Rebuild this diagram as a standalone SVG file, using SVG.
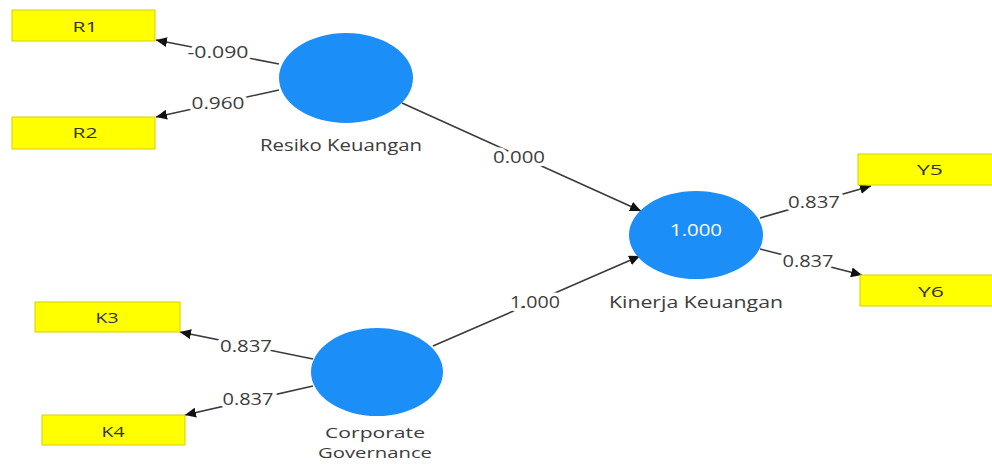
<svg xmlns="http://www.w3.org/2000/svg" width="992" height="464" viewBox="0 0 992 464">
<style>
.bg{fill:#ffffff}
.lv{fill:#1c8ef8}
.ind{fill:#ffff00;stroke:#d6d000;stroke-width:1}
.edge{stroke:#3a3a3a;stroke-width:1.6;fill:none;marker-end:url(#ah)}
.el{font-family:"Open Sans","Noto Sans",sans-serif;font-size:17px;fill:#3c3c3c;text-anchor:middle;stroke:#ffffff;stroke-width:7;stroke-linejoin:round;paint-order:stroke}
.nl{font-family:"Open Sans","Noto Sans",sans-serif;font-size:17px;fill:#3c3c3c;text-anchor:middle}
.cg{font-family:"Open Sans","Noto Sans",sans-serif;font-size:15px;fill:#3c3c3c;text-anchor:middle}
.bl{font-family:"Open Sans","Noto Sans",sans-serif;font-size:15px;fill:#333333;text-anchor:middle}
.in{font-family:"Open Sans","Noto Sans",sans-serif;font-size:17px;fill:#ffffff;text-anchor:middle}
</style>
<defs>
<marker id="ah" markerUnits="userSpaceOnUse" markerWidth="12" markerHeight="10" refX="11" refY="5" orient="auto">
<path d="M0,0 L11,5 L0,10 z" fill="#111111"/>
</marker>
</defs>
<rect class="bg" x="0" y="0" width="992" height="464"/>
<g id="connectors">
<line class="edge" x1="279" y1="64" x2="156" y2="40"/>
<line class="edge" x1="279" y1="90" x2="156" y2="117"/>
<line class="edge" x1="402" y1="103" x2="641" y2="211"/>
<line class="edge" x1="433" y1="346" x2="640" y2="256"/>
<line class="edge" x1="313" y1="359" x2="180" y2="332"/>
<line class="edge" x1="313" y1="386" x2="185" y2="415"/>
<line class="edge" x1="760" y1="218" x2="871" y2="186"/>
<line class="edge" x1="760" y1="249" x2="862" y2="275"/>
<text class="el" x="218" y="58" textLength="61" lengthAdjust="spacingAndGlyphs">-0.090</text>
<text class="el" x="218" y="109" textLength="53" lengthAdjust="spacingAndGlyphs">0.960</text>
<text class="el" x="519" y="163" textLength="52" lengthAdjust="spacingAndGlyphs">0.000</text>
<text class="el" x="535" y="308" textLength="50" lengthAdjust="spacingAndGlyphs">1.000</text>
<text class="el" x="246" y="352" textLength="52" lengthAdjust="spacingAndGlyphs">0.837</text>
<text class="el" x="248" y="405" textLength="51" lengthAdjust="spacingAndGlyphs">0.837</text>
<text class="el" x="814" y="208" textLength="52" lengthAdjust="spacingAndGlyphs">0.837</text>
<text class="el" x="808" y="267" textLength="51" lengthAdjust="spacingAndGlyphs">0.837</text>
</g>
<g id="resiko-keuangan">
<ellipse class="lv" cx="346" cy="78" rx="67" ry="45"/>
<text class="nl" x="341" y="151" textLength="162" lengthAdjust="spacingAndGlyphs">Resiko Keuangan</text>
</g>
<g id="kinerja-keuangan">
<ellipse class="lv" cx="696" cy="235" rx="67" ry="44"/>
<text class="in" x="696" y="236" textLength="52" lengthAdjust="spacingAndGlyphs">1.000</text>
<text class="nl" x="696" y="308" textLength="174" lengthAdjust="spacingAndGlyphs">Kinerja Keuangan</text>
</g>
<g id="corporate-governance">
<ellipse class="lv" cx="377" cy="372" rx="66" ry="44"/>
<text class="cg" x="375" y="438" textLength="100" lengthAdjust="spacingAndGlyphs">Corporate</text>
<text class="cg" x="375" y="458" textLength="114" lengthAdjust="spacingAndGlyphs">Governance</text>
</g>
<g id="R1">
<rect class="ind" x="12" y="10" width="143" height="31"/>
<text class="bl" x="85" y="32" textLength="25" lengthAdjust="spacingAndGlyphs">R1</text>
</g>
<g id="R2">
<rect class="ind" x="12" y="117" width="143" height="32"/>
<text class="bl" x="85" y="138" textLength="25" lengthAdjust="spacingAndGlyphs">R2</text>
</g>
<g id="K3">
<rect class="ind" x="35" y="302" width="145" height="30"/>
<text class="bl" x="107" y="323" textLength="23" lengthAdjust="spacingAndGlyphs">K3</text>
</g>
<g id="K4">
<rect class="ind" x="42" y="415" width="143" height="30"/>
<text class="bl" x="113" y="437" textLength="23" lengthAdjust="spacingAndGlyphs">K4</text>
</g>
<g id="Y5">
<rect class="ind" x="858" y="154" width="143" height="31"/>
<text class="bl" x="930" y="175" textLength="26" lengthAdjust="spacingAndGlyphs">Y5</text>
</g>
<g id="Y6">
<rect class="ind" x="860" y="275" width="143" height="31"/>
<text class="bl" x="931" y="297" textLength="26" lengthAdjust="spacingAndGlyphs">Y6</text>
</g>
</svg>
